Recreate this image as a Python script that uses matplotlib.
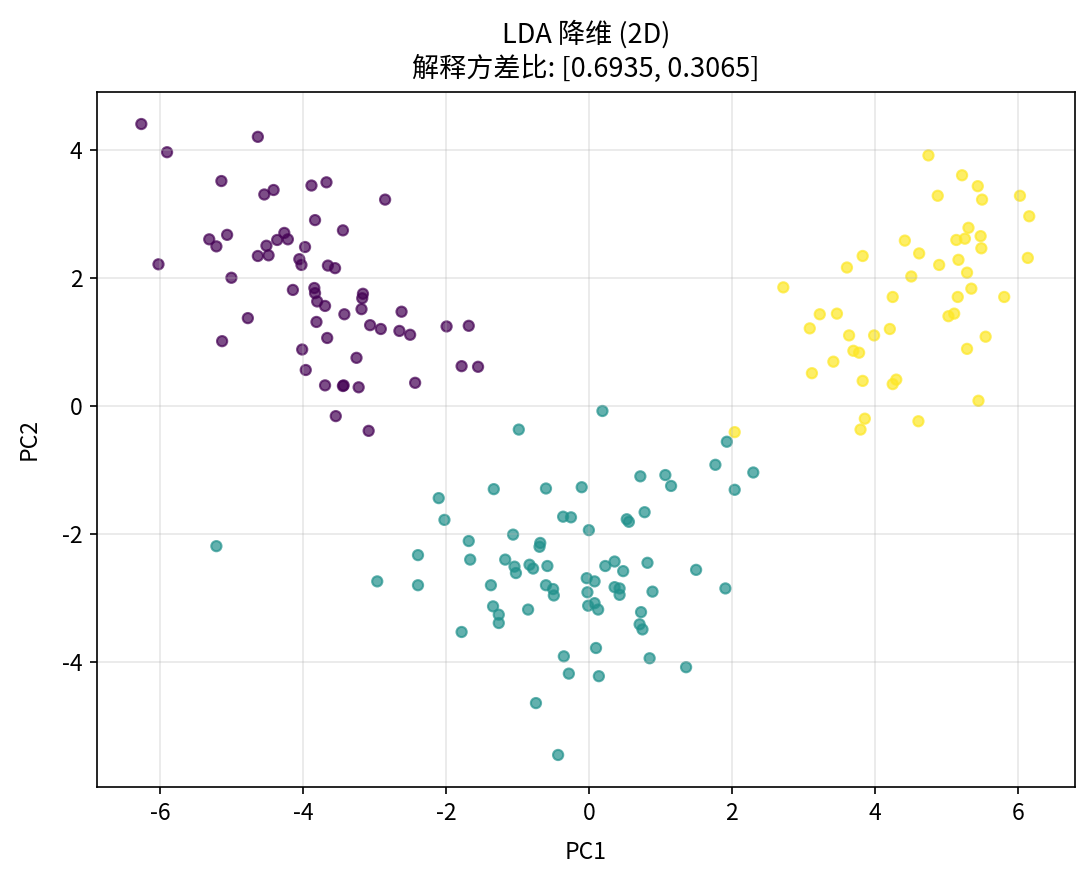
import matplotlib
matplotlib.use("Agg")
import matplotlib.pyplot as plt
import numpy as np

plt.rcParams['font.family'] = ['Noto Sans CJK SC', 'DejaVu Sans']
plt.rcParams['axes.unicode_minus'] = False

class0_x = [-6.26, -5.90, -4.63, -5.14, -4.54, -4.41, -3.88, -3.67, -2.85, -3.83,
            -3.44, -5.31, -5.21, -5.06, -6.02, -5.00, -4.63, -4.51, -4.48, -4.36,
            -4.26, -4.21, -3.97, -4.05, -4.02, -3.65, -3.55, -4.14, -3.84, -3.83,
            -3.80, -3.69, -3.16, -3.17, -3.18, -4.77, -3.81, -3.42, -2.62, -3.06,
            -2.91, -2.65, -2.50, -1.99, -1.68, -5.13, -4.01, -3.66, -3.25, -3.96,
            -1.78, -1.55, -3.69, -3.43, -3.44, -3.22, -2.43, -3.54, -3.08]
class0_y = [4.40, 3.96, 4.20, 3.51, 3.30, 3.37, 3.44, 3.49, 3.22, 2.90,
            2.74, 2.60, 2.49, 2.67, 2.21, 2.00, 2.34, 2.50, 2.35, 2.59,
            2.70, 2.60, 2.48, 2.29, 2.20, 2.19, 2.15, 1.81, 1.84, 1.76,
            1.63, 1.56, 1.75, 1.68, 1.51, 1.37, 1.31, 1.43, 1.47, 1.26,
            1.20, 1.17, 1.11, 1.24, 1.25, 1.01, 0.88, 1.06, 0.75, 0.56,
            0.62, 0.61, 0.32, 0.32, 0.31, 0.29, 0.36, -0.16, -0.39]

class1_x = [-5.21, -2.96, -2.39, -2.39, -2.10, -2.02, -1.78, -1.68, -1.66, -1.37,
            -1.34, -1.33, -1.26, -1.26, -1.17, -1.06, -1.04, -1.02, -0.98, -0.85,
            -0.83, -0.78, -0.74, -0.68, -0.69, -0.60, -0.60, -0.58, -0.50, -0.49,
            -0.43, -0.36, -0.35, -0.28, -0.25, -0.10, -0.03, -0.02, -0.01, 0.00,
            0.08, 0.08, 0.13, 0.10, 0.14, 0.19, 0.23, 0.36, 0.48, 0.36,
            0.43, 0.43, 0.53, 0.56, 0.72, 0.73, 0.71, 0.75, 0.78, 0.82,
            0.85, 0.89, 1.07, 1.15, 1.36, 1.50, 1.77, 1.91, 1.93, 2.04,
            2.30]
class1_y = [-2.19, -2.74, -2.33, -2.80, -1.44, -1.78, -3.53, -2.11, -2.40, -2.80,
            -3.13, -1.30, -3.26, -3.39, -2.40, -2.01, -2.51, -2.61, -0.37, -3.18,
            -2.48, -2.54, -4.64, -2.14, -2.20, -1.29, -2.80, -2.50, -2.86, -2.96,
            -5.45, -1.73, -3.91, -4.18, -1.74, -1.27, -2.69, -2.91, -3.12, -1.94,
            -2.74, -3.08, -3.18, -3.78, -4.22, -0.08, -2.50, -2.43, -2.58, -2.83,
            -2.85, -2.95, -1.77, -1.81, -1.10, -3.22, -3.41, -3.49, -1.66, -2.45,
            -3.94, -2.90, -1.08, -1.25, -4.08, -2.56, -0.92, -2.85, -0.56, -1.31,
            -1.04]

class2_x = [2.04, 2.72, 3.09, 3.12, 3.23, 3.42, 3.47, 3.61, 3.64, 3.70,
            3.78, 3.80, 3.83, 3.83, 3.86, 3.99, 4.21, 4.25, 4.25, 4.30,
            4.42, 4.51, 4.61, 4.62, 4.75, 4.88, 4.90, 5.03, 5.11, 5.14,
            5.16, 5.17, 5.22, 5.26, 5.29, 5.29, 5.31, 5.35, 5.44, 5.45,
            5.48, 5.49, 5.50, 5.55, 5.81, 6.03, 6.14, 6.16]
class2_y = [-0.41, 1.85, 1.21, 0.51, 1.43, 0.69, 1.44, 2.16, 1.10, 0.86,
            0.83, -0.37, 2.34, 0.39, -0.20, 1.10, 1.20, 1.70, 0.34, 0.41,
            2.58, 2.02, -0.24, 2.38, 3.91, 3.28, 2.20, 1.40, 1.44, 2.59,
            1.70, 2.28, 3.60, 2.61, 2.08, 0.89, 2.78, 1.83, 3.43, 0.08,
            2.65, 2.46, 3.22, 1.08, 1.70, 3.28, 2.31, 2.96]

x = np.array(class0_x + class1_x + class2_x)
y = np.array(class0_y + class1_y + class2_y)
labels = np.array([0] * len(class0_x) + [1] * len(class1_x) + [2] * len(class2_x))

W, H, DPI = 1091, 884, 150
fig = plt.figure(figsize=(W / DPI, H / DPI), dpi=DPI)
ax = fig.add_axes([97 / W, 1 - 787 / H, (1075 - 97) / W, (787 - 92) / H])

ax.scatter(x, y, c=labels, cmap='viridis', alpha=0.7, s=24)
ax.set_xlim(-6.88, 6.80)
ax.set_ylim(-5.95, 4.90)
ax.set_xticks([-6, -4, -2, 0, 2, 4, 6])
ax.set_yticks([-4, -2, 0, 2, 4])
ax.grid(True, alpha=0.3)
ax.set_xlabel('PC1', fontsize=11, labelpad=8)
ax.set_ylabel('PC2', fontsize=11, labelpad=10)
ax.tick_params(labelsize=11)
ax.set_title('LDA 降维 (2D)\n解释方差比: [0.6935, 0.3065]', fontsize=13,
             linespacing=1.3, pad=7)

fig.savefig('out.png', dpi=DPI)
